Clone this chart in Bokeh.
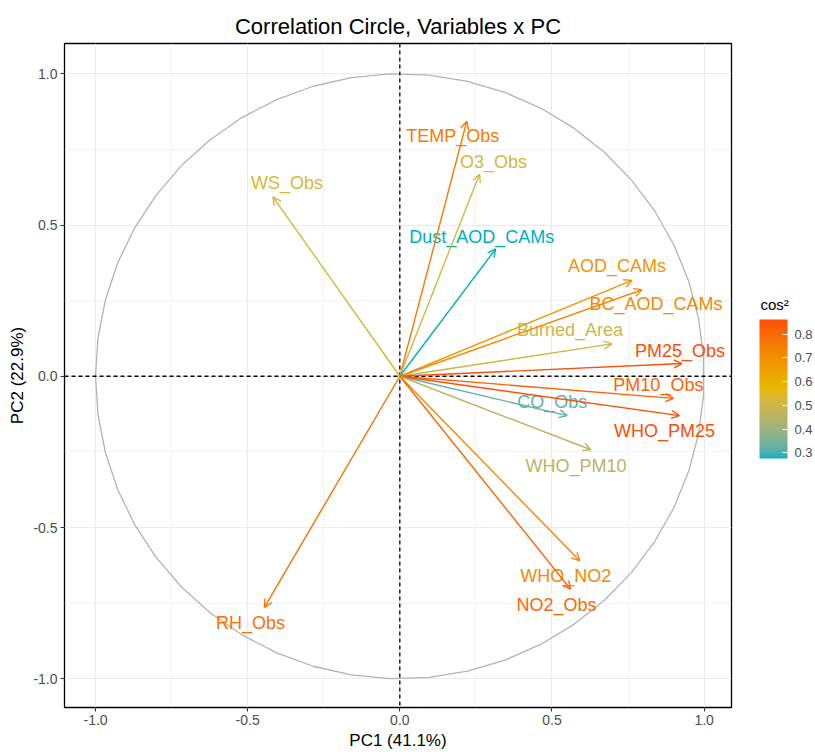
import numpy as np
from bokeh.plotting import figure
from bokeh.layouts import row
from bokeh.models import (Range1d, FixedTicker, Span, Arrow, OpenHead, ColumnDataSource,
                          ColorBar, LinearColorMapper, PrintfTickFormatter)
from bokeh.core.properties import value
from bokeh.embed import file_html
from bokeh.resources import INLINE

# ---------------- data ----------------
variables = ["TEMP_Obs", "O3_Obs", "WS_Obs", "Dust_AOD_CAMs", "AOD_CAMs", "BC_AOD_CAMs",
             "Burned_Area", "PM25_Obs", "PM10_Obs", "CO_Obs", "WHO_PM25", "WHO_PM10",
             "WHO_NO2", "NO2_Obs", "RH_Obs"]
pc1 = [0.220, 0.262, -0.417, 0.315, 0.763, 0.796, 0.697, 0.927, 0.899, 0.550, 0.919, 0.628,
       0.591, 0.561, -0.445]
pc2 = [0.843, 0.668, 0.593, 0.421, 0.317, 0.286, 0.107, 0.042, -0.073, -0.130, -0.130, -0.243,
       -0.610, -0.704, -0.764]
pc1_label = "PC1 (41.1%)"
pc2_label = "PC2 (22.9%)"
axis_ticks = [-1.0, -0.5, 0.0, 0.5, 1.0]
legend_ticks = [0.3, 0.4, 0.5, 0.6, 0.7, 0.8]
legend_title = "cos²"
gradient_colors = ["#00AFBB", "#E7B800", "#FC4E07"]

# label placement (screen pixel offsets from arrow tips; layout only)
label_dx = [-14, 14, 14, -14, -15, 14, -42, -2, -15, -15, -15, -15, -14, -14, -14]
label_dy = [15, -12, -14, -12, -14, 14, -14, -13, -13, -14, 15, 16, 15, 16, 16]

# ---------------- colour gradient (Lab interpolation, like ggplot) ----------------
def hex_to_rgb(h):
    h = h.lstrip("#")
    return np.array([int(h[i:i + 2], 16) for i in (0, 2, 4)], dtype=float) / 255.0

M = np.array([[0.4124564, 0.3575761, 0.1804375],
              [0.2126729, 0.7151522, 0.0721750],
              [0.0193339, 0.1191920, 0.9503041]])
Minv = np.linalg.inv(M)
WHITE = np.array([0.95047, 1.0, 1.08883])

def rgb_to_lab(rgb):
    lin = np.where(rgb <= 0.04045, rgb / 12.92, ((rgb + 0.055) / 1.055) ** 2.4)
    xyz = M @ lin / WHITE
    f = np.where(xyz > (6 / 29) ** 3, np.cbrt(xyz), xyz / (3 * (6 / 29) ** 2) + 4 / 29)
    return np.array([116 * f[1] - 16, 500 * (f[0] - f[1]), 200 * (f[1] - f[2])])

def lab_to_hex(lab):
    fy = (lab[0] + 16) / 116
    fx = fy + lab[1] / 500
    fz = fy - lab[2] / 200
    f = np.array([fx, fy, fz])
    xyz = np.where(f > 6 / 29, f ** 3, 3 * (6 / 29) ** 2 * (f - 4 / 29)) * WHITE
    lin = Minv @ xyz
    lin = np.clip(lin, 0, 1)
    rgb = np.where(lin <= 0.0031308, 12.92 * lin, 1.055 * lin ** (1 / 2.4) - 0.055)
    rgb = np.clip(np.round(rgb * 255), 0, 255).astype(int)
    return "#%02x%02x%02x" % tuple(rgb)

labs = [rgb_to_lab(hex_to_rgb(c)) for c in gradient_colors]

def ramp(t):
    t = min(max(t, 0.0), 1.0)
    seg = t * (len(labs) - 1)
    i = min(int(seg), len(labs) - 2)
    u = seg - i
    return lab_to_hex(labs[i] * (1 - u) + labs[i + 1] * u)

cos2 = [x * x + y * y for x, y in zip(pc1, pc2)]
lo, hi = min(cos2), max(cos2)
colors = [ramp((c - lo) / (hi - lo)) for c in cos2]
palette = [ramp(i / 255) for i in range(256)]

# ---------------- main figure ----------------
FONT = "Liberation Sans"
p = figure(width=733, height=752, output_backend="svg", toolbar_location=None,
           x_range=Range1d(-1.102, 1.090), y_range=Range1d(-1.095, 1.10),
           min_border_left=64, min_border_right=2, min_border_top=43, min_border_bottom=43,
           title="Correlation Circle, Variables x PC")
p.title.text_font = FONT
p.title.text_font_size = "22px"
p.title.text_font_style = "normal"
p.title.align = "center"
p.title.text_color = "black"

p.outline_line_color = "black"
p.outline_line_width = 1.3
p.outline_line_alpha = 1.0

for ax, lab in ((p.xaxis[0], pc1_label), (p.yaxis[0], pc2_label)):
    ax.ticker = FixedTicker(ticks=axis_ticks, minor_ticks=[-0.75, -0.25, 0.25, 0.75])
    ax.formatter = PrintfTickFormatter(format="%.1f")
    ax.axis_label = lab
    ax.axis_label_text_font = FONT
    ax.axis_label_text_font_size = "17px"
    ax.axis_label_text_font_style = "normal"
    ax.axis_label_text_color = "black"
    ax.axis_label_standoff = 3
    ax.major_label_text_font = FONT
    ax.major_label_text_font_size = "14px"
    ax.major_label_text_color = "#4D4D4D"
    ax.major_label_standoff = 3
    ax.axis_line_color = None
    ax.major_tick_line_color = "#333333"
    ax.major_tick_line_width = 1.1
    ax.major_tick_in = 0
    ax.major_tick_out = 4
    ax.minor_tick_line_color = None

for g in (p.xgrid[0], p.ygrid[0]):
    g.grid_line_color = "#EBEBEB"
    g.grid_line_width = 1.1
    g.minor_grid_line_color = "#EBEBEB"
    g.minor_grid_line_width = 0.6

# unit circle
theta = np.linspace(-np.pi, np.pi, 50)
p.line(np.cos(theta), np.sin(theta), line_color="#B3B3B3", line_width=1.3)

# reference dashed lines
p.add_layout(Span(location=0, dimension="height", line_color="black", line_dash="4 3", line_width=1.3))
p.add_layout(Span(location=0, dimension="width", line_color="black", line_dash="4 3", line_width=1.3))

# arrows
for x, y, c in zip(pc1, pc2, colors):
    p.add_layout(Arrow(x_start=0, y_start=0, x_end=x, y_end=y, line_color=c, line_width=1.4,
                       end=OpenHead(size=8, line_color=c, line_width=1.4)))

# labels
src = ColumnDataSource(dict(x=pc1, y=pc2, label=variables, color=colors, dx=label_dx, dy=label_dy))
p.text(x="x", y="y", text="label", text_color="color", x_offset="dx", y_offset="dy", source=src,
       text_font=value(FONT), text_font_size="18px", text_align="center", text_baseline="middle")

# ---------------- legend panel (frame aligned with main frame; y = 752 - screen y) ----------------
q = figure(width=82, height=752, output_backend="svg", toolbar_location=None,
           x_range=Range1d(0, 82), y_range=Range1d(43, 709),
           x_axis_location=None, y_axis_location=None,
           min_border_left=0, min_border_right=0, min_border_top=43, min_border_bottom=43)
q.grid.visible = False
q.outline_line_color = None

mapper = LinearColorMapper(palette=palette, low=lo, high=hi)
cb = ColorBar(color_mapper=mapper, ticker=FixedTicker(ticks=legend_ticks), width=28, height=139,
              major_label_text_font=FONT, major_label_text_font_size="13px",
              major_label_text_color="#4D4D4D", label_standoff=7,
              major_tick_line_color="white", major_tick_in=5, major_tick_out=0,
              minor_tick_line_color=None, bar_line_color=None, border_line_color=None,
              background_fill_color=None, location=(26, 249), padding=0)
q.add_layout(cb, "center")
q.text(x=[27], y=[447], text=[legend_title], text_font=value(FONT), text_font_size="15px",
       text_color="black", text_baseline="middle", text_align="left")

open("out.html", "w").write(file_html(row(p, q), INLINE))
